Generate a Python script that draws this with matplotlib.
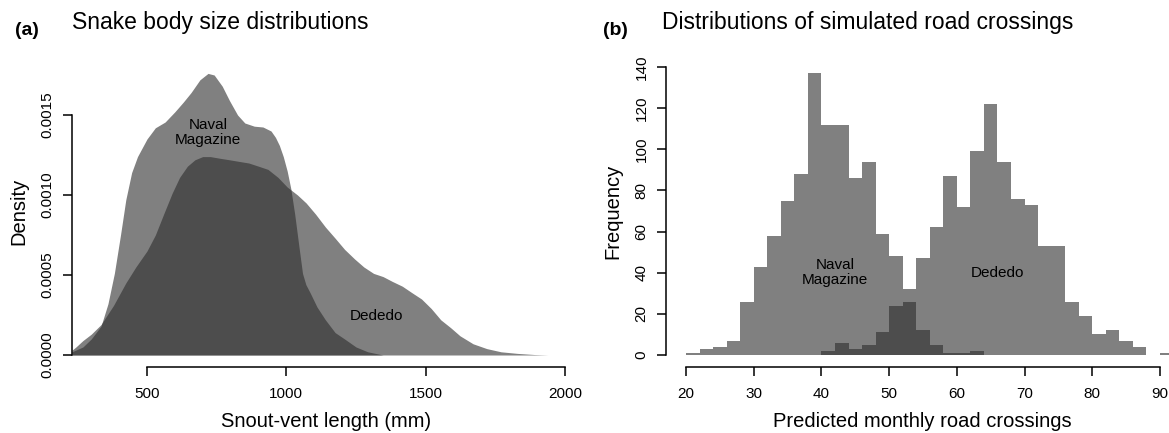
import matplotlib.pyplot as plt
import numpy as np

plt.rcParams['font.family'] = ['Liberation Sans', 'DejaVu Sans']

# ---- panel (a): density curves ----
naval_x = [231, 270, 300, 335, 360, 383, 405, 424, 445, 466, 500, 530, 565, 600,
           630, 658, 690, 719, 741, 770, 796, 825, 851, 885, 916, 945, 961, 975,
           989, 1003, 1016, 1030, 1045, 1058, 1070, 1085, 1110, 1140, 1175, 1209,
           1250, 1292, 1347]
naval_d = [0.00002, 0.00005, 0.0001, 0.00018, 0.00032, 0.00051, 0.00075, 0.00097,
           0.00114, 0.00124, 0.00135, 0.00142, 0.001456, 0.00152, 0.00158, 0.00164,
           0.00172, 0.00176, 0.00175, 0.00168, 0.00159, 0.0015, 0.00145, 0.00143,
           0.001425, 0.0014, 0.00136, 0.00131, 0.00124, 0.00115, 0.00104, 0.00088,
           0.00068, 0.00051, 0.00044, 0.00039, 0.0003, 0.00022, 0.00014, 0.0001,
           0.00005, 0.00002, 0.0]

dededo_x = [231, 245, 270, 300, 335, 380, 424, 460, 500, 530, 562, 590, 617, 645,
            672, 700, 727, 760, 796, 830, 865, 900, 934, 970, 1003, 1040, 1071,
            1105, 1140, 1175, 1209, 1245, 1278, 1313, 1347, 1380, 1416, 1450, 1485,
            1520, 1554, 1590, 1623, 1670, 1719, 1770, 1829, 1890, 1939]
dededo_d = [0.00003, 0.00005, 0.00009, 0.00013, 0.00019, 0.00031, 0.00045, 0.00055,
            0.00065, 0.00075, 0.00089, 0.00101, 0.00111, 0.00118, 0.00122, 0.00124,
            0.00124, 0.00123, 0.00122, 0.00121, 0.0012, 0.00118, 0.00116, 0.00111,
            0.00105, 0.001, 0.00095, 0.00088, 0.0008, 0.00073, 0.00066, 0.0006,
            0.00055, 0.00051, 0.00049, 0.00046, 0.00043, 0.00039, 0.00035, 0.00029,
            0.00022, 0.00017, 0.00012, 0.00007, 0.00004, 0.00002, 0.00001, 0.000003,
            0.0]

# ---- panel (b): histogram counts, bins of width 2 from 20 to 92 ----
bin_edges = np.arange(20, 94, 2)
naval_counts = [1, 3, 4, 7, 26, 43, 58, 75, 88, 137, 112, 112, 86, 94, 59, 48, 26,
                12, 5, 1, 1, 2, 0, 0, 0, 0, 0, 0, 0, 0, 0, 0, 0, 0, 0, 0]
dededo_counts = [0, 0, 0, 0, 0, 0, 0, 0, 0, 0, 2, 6, 3, 5, 11, 24, 32, 47, 62, 87,
                 72, 99, 122, 94, 76, 73, 53, 53, 26, 19, 10, 12, 7, 4, 0, 1]

fill = (0.17, 0.17, 0.17, 0.6)
W, H = 1169, 433

fig = plt.figure(figsize=(W / 100, H / 100), dpi=100)

def px_axes(left, top, right, bottom):
    return fig.add_axes([left / W, 1 - bottom / H, (right - left) / W, (bottom - top) / H])

def style(ax):
    for s in ['top', 'right']:
        ax.spines[s].set_visible(False)
    for s in ['left', 'bottom']:
        ax.spines[s].set_linewidth(1.1)
    ax.tick_params(direction='out', length=6.5, width=1.1, labelsize=11)
    ax.tick_params(axis='x', pad=8)
    ax.tick_params(axis='y', pad=6)
    for lab in ax.get_yticklabels():
        lab.set_rotation(90)
        lab.set_va('center')

#------------------------[Panel a]------------------------#
ax1 = px_axes(72, 55, 580, 367)
ax1.fill_between(naval_x, naval_d, color=fill, linewidth=0)
ax1.fill_between(dededo_x, dededo_d, color=fill, linewidth=0)
ax1.set_xlim(231, 500 + (580 - 147) / 0.2787)
ax1.set_ylim(-12 / 160000, 312 / 160000 - 12 / 160000)
ax1.set_xticks([500, 1000, 1500, 2000])
ax1.set_yticks([0, 0.0005, 0.0010, 0.0015])
ax1.set_yticklabels(['0.0000', '0.0005', '0.0010', '0.0015'])
ax1.spines['left'].set_bounds(0, 0.0015)
ax1.spines['bottom'].set_bounds(500, 2000)
style(ax1)
ax1.set_xlabel('Snout-vent length (mm)', fontsize=14.5, labelpad=8)
ax1.set_ylabel('Density', fontsize=14.5, labelpad=9)
ax1.text(719, 0.00139, 'Naval\nMagazine', ha='center', va='center', fontsize=11,
         linespacing=1.1)
ax1.text(1322, 0.000244, 'Dededo', ha='center', va='center', fontsize=11)

#------------------------[Panel b]------------------------#
ax2 = px_axes(666, 55, 1179, 367)
ax2.bar(bin_edges[:-1], naval_counts, width=2, align='edge', color=fill, linewidth=0)
ax2.bar(bin_edges[:-1], dededo_counts, width=2, align='edge', color=fill, linewidth=0)
ax2.set_xlim(20 - 20 / 6.771, 20 + (1179 - 686) / 6.771)
ax2.set_ylim(-12 / 2.057, (355 - 55) / 2.057)
ax2.set_xticks(np.arange(20, 100, 10))
ax2.set_yticks(np.arange(0, 160, 20))
ax2.spines['left'].set_bounds(0, 140)
ax2.spines['bottom'].set_bounds(20, 90)
style(ax2)
ax2.set_xlabel('Predicted monthly road crossings', fontsize=14.5, labelpad=8)
ax2.set_ylabel('Frequency', fontsize=14.5, labelpad=9)
ax2.text(42, 40, 'Naval\nMagazine', ha='center', va='center', fontsize=11,
         linespacing=1.1)
ax2.text(66, 40, 'Dededo', ha='center', va='center', fontsize=11)

# titles
fig.text(15 / W, 1 - 35 / H, '(a)', fontsize=14, fontweight='bold', va='baseline')
fig.text(72 / W, 1 - 29 / H, 'Snake body size distributions', fontsize=16.5, va='baseline')
fig.text(603 / W, 1 - 35 / H, '(b)', fontsize=14, fontweight='bold', va='baseline')
fig.text(662 / W, 1 - 29 / H, 'Distributions of simulated road crossings', fontsize=16.5,
         va='baseline')

fig.savefig('out.png', dpi=100)
